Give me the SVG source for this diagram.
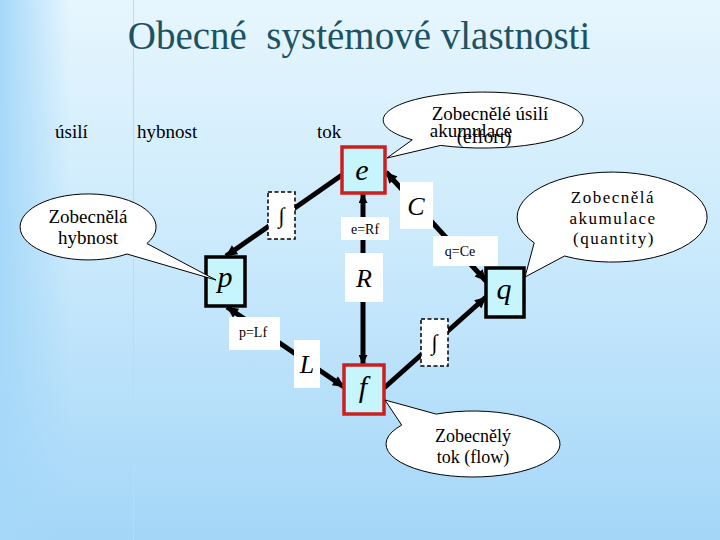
<svg xmlns="http://www.w3.org/2000/svg" width="720" height="540" viewBox="0 0 720 540">
<defs>
<linearGradient id="bg" x1="0" y1="0" x2="0" y2="1">
<stop offset="0" stop-color="#e6f6fe"/>
<stop offset="0.45" stop-color="#cbeafc"/>
<stop offset="1" stop-color="#a4d6f8"/>
</linearGradient>
<linearGradient id="side" x1="0" y1="0" x2="1" y2="0">
<stop offset="0" stop-color="#a6d8f9" stop-opacity="1"/>
<stop offset="1" stop-color="#a6d8f9" stop-opacity="0"/>
</linearGradient>
<marker id="ah" viewBox="0 0 10 10" refX="10" refY="5" markerWidth="13" markerHeight="11" markerUnits="userSpaceOnUse" orient="auto-start-reverse">
<path d="M0,0 L10,5 L0,10 Z" fill="#000"/>
</marker>
<marker id="ahs" viewBox="0 0 10 10" refX="10" refY="5" markerWidth="10" markerHeight="9" markerUnits="userSpaceOnUse" orient="auto-start-reverse">
<path d="M0,0 L10,5 L0,10 Z" fill="#000"/>
</marker>
</defs>
<style>
text{font-family:"Liberation Serif","DejaVu Serif",serif}
.t{fill:#000}
.title{fill:#1e5262;font-size:39px}
.lab{font-size:19px}
.co{font-size:19px}
.var{font-style:italic;font-size:30px}
.cvar{font-style:italic;font-size:26px}
.eq{font-size:14px}
.int{font-size:22px}
.node{fill:#c6f5fd;stroke-width:3.5}
.red{stroke:#cc2020}
.blk{stroke:#000}
.wb{fill:#fff}
.dash{fill:#fff;stroke:#000;stroke-width:1.5;stroke-dasharray:4,2.5}
.call{fill:#fff;stroke:#000;stroke-width:1}
.con{stroke:#000;stroke-width:5;fill:none}
</style>
<rect width="720" height="540" fill="url(#bg)"/>
<rect width="70" height="540" fill="url(#side)"/>
<line x1="133.5" y1="0" x2="133.5" y2="540" stroke="#b6deef" stroke-width="1"/>

<text class="title" x="359" y="49" text-anchor="middle" xml:space="preserve">Obecné  systémové vlastnosti</text>

<g id="labels">
<text class="t lab" x="55" y="138">úsilí</text>
<text class="t lab" x="137" y="138">hybnost</text>
<text class="t lab" x="317" y="138">tok</text>
</g>

<g id="connectors">
<line class="con" x1="342" y1="175" x2="226" y2="256" marker-end="url(#ah)"/>
<line class="con" x1="386" y1="172" x2="486" y2="281" marker-start="url(#ah)" marker-end="url(#ah)"/>
<line class="con" x1="363" y1="194" x2="363" y2="364" stroke-width="4" marker-start="url(#ahs)" marker-end="url(#ahs)"/>
<line class="con" x1="227" y1="307" x2="344" y2="387" marker-start="url(#ah)" marker-end="url(#ah)"/>
<line class="con" x1="384" y1="388" x2="486" y2="297" marker-end="url(#ah)"/>
</g>

<g id="int1"><rect class="dash" x="268" y="192" width="27" height="47"/><text class="t int" x="281.5" y="223" text-anchor="middle">∫</text></g>
<g id="int2"><rect class="dash" x="421" y="319" width="27" height="47"/><text class="t int" x="434.5" y="350" text-anchor="middle">∫</text></g>

<g id="lC"><rect class="wb" x="400" y="182" width="33" height="47"/><text class="t cvar" x="416" y="215" text-anchor="middle">C</text></g>
<g id="lqCe"><rect class="wb" x="433" y="236" width="65" height="30"/><text class="t eq" x="460" y="256" text-anchor="middle">q=Ce</text></g>
<g id="leRf"><rect class="wb" x="341" y="217" width="48" height="23"/><text class="t eq" x="365" y="234" text-anchor="middle">e=Rf</text></g>
<g id="lR"><rect class="wb" x="345" y="253" width="38" height="49"/><text class="t cvar" x="364" y="287" text-anchor="middle">R</text></g>
<g id="lpLf"><rect class="wb" x="229" y="317" width="51" height="33"/><text class="t eq" x="253" y="337" text-anchor="middle">p=Lf</text></g>
<g id="lL"><rect class="wb" x="294" y="340" width="26" height="48"/><text class="t cvar" x="307" y="373" text-anchor="middle">L</text></g>

<g id="e"><rect class="node red" x="342" y="147" width="43" height="46"/><text class="t var" x="362" y="180" text-anchor="middle">e</text></g>
<g id="p"><rect class="node blk" x="206" y="257" width="39" height="49"/><text class="t var" x="225" y="287" text-anchor="middle">p</text></g>
<g id="q"><rect class="node blk" x="486" y="268" width="38" height="49"/><text class="t var" x="504" y="299" text-anchor="middle">q</text></g>
<g id="f"><rect class="node red" x="344" y="365" width="40" height="49"/><text class="t var" x="363" y="397" text-anchor="middle">f</text></g>

<g id="callout-effort">
<path class="call" d="M412.3,139.8 A100,28 0 1 1 440.7,145.4 L387,158 Z"/>
<text class="t co" x="490" y="120" text-anchor="middle">Zobecnělé úsilí</text>
<text class="t co" x="471" y="137" text-anchor="middle">akumulace</text>
<text class="t co" x="484" y="143" text-anchor="middle">(effort)</text>
</g>
<g id="callout-hybnost">
<path class="call" d="M127,254 A68,33 0 1 1 146.9,243.5 L216,280 Z"/>
<text class="t co" x="88" y="223" text-anchor="middle">Zobecnělá</text>
<text class="t co" x="88" y="244" text-anchor="middle">hybnost</text>
</g>
<g id="callout-quantity">
<path class="call" d="M534.2,242.8 A95,45 0 1 1 564.5,256 L525,277 Z"/>
<text class="t" font-size="17" letter-spacing="1.5" x="613" y="203" text-anchor="middle">Zobecnělá</text>
<text class="t" font-size="17" letter-spacing="1.5" x="613" y="224" text-anchor="middle">akumulace</text>
<text class="t" font-size="17" letter-spacing="1.5" x="614" y="244" text-anchor="middle">(quantity)</text>
</g>
<g id="callout-flow">
<path class="call" d="M436.2,414.1 A87,33 0 1 1 401.7,425.1 L385,400 Z"/>
<text class="t" font-size="18" x="473" y="442" text-anchor="middle">Zobecnělý</text>
<text class="t" font-size="18" x="473" y="463" text-anchor="middle">tok (flow)</text>
</g>
</svg>
